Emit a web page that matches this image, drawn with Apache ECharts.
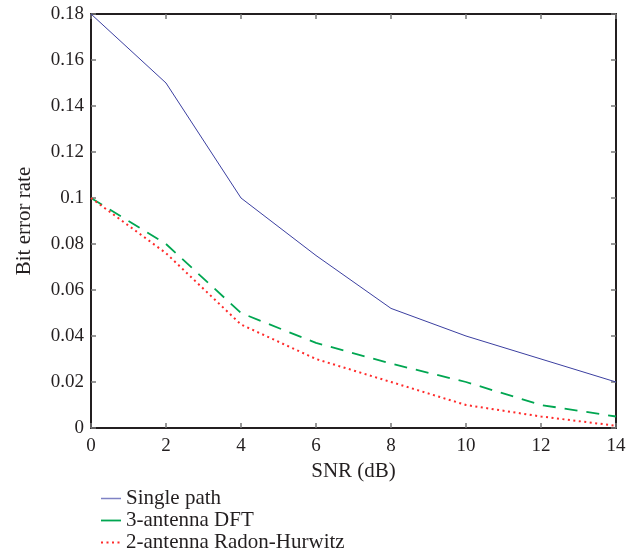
<!DOCTYPE html>
<html>
<head>
<meta charset="utf-8">
<script src="https://cdn.jsdelivr.net/npm/echarts@6/dist/echarts.min.js"></script>
<style>html,body{margin:0;padding:0;background:#fff;}#c{width:642px;height:559px;}</style>
</head>
<body>
<div id="c"></div>
<script>
const snr = [0, 2, 4, 6, 8, 10, 12, 14];
const singlePath = [0.18, 0.15, 0.10, 0.075, 0.052, 0.040, 0.030, 0.020];
const dft3 = [0.10, 0.080, 0.050, 0.037, 0.028, 0.020, 0.010, 0.005];
const radonHurwitz2 = [0.10, 0.076, 0.045, 0.030, 0.020, 0.010, 0.005, 0.001];
const seriesNames = ['Single path', '3-antenna DFT', '2-antenna Radon-Hurwitz'];

const FONT = 'Liberation Serif';
const pairs = arr => snr.map((x, i) => [x, arr[i]]);

const chart = echarts.init(document.getElementById('c'), null, {renderer: 'canvas'});
const axisLine = {show: true, onZero: false, lineStyle: {color: '#231f20', width: 2}};
const tick = {show: true, inside: true, length: 5, lineStyle: {color: '#777', width: 1.5}};
chart.setOption({
  animation: false,
  backgroundColor: '#fff',
  grid: {left: 91, right: 26, top: 14, bottom: 131, containLabel: false},
  xAxis: [{
    type: 'value', min: 0, max: 14, interval: 2, position: 'bottom',
    name: 'SNR (dB)', nameLocation: 'middle', nameGap: 32,
    nameTextStyle: {fontFamily: FONT, fontSize: 21, color: '#231f20'},
    axisLine: axisLine, axisTick: tick,
    axisLabel: {fontFamily: FONT, fontSize: 19, color: '#231f20', margin: 9},
    splitLine: {show: false}
  }, {
    type: 'value', min: 0, max: 14, interval: 2, position: 'top',
    axisLine: axisLine, axisTick: tick, axisLabel: {show: false}, splitLine: {show: false}
  }],
  yAxis: [{
    type: 'value', min: 0, max: 0.18, interval: 0.02, position: 'left',
    name: 'Bit error rate', nameLocation: 'middle', nameGap: 56,
    nameTextStyle: {fontFamily: FONT, fontSize: 21, color: '#231f20'},
    axisLine: axisLine, axisTick: tick,
    axisLabel: {fontFamily: FONT, fontSize: 19, color: '#231f20', margin: 7,
      formatter: v => String(Math.round(v * 100) / 100)},
    splitLine: {show: false}
  }, {
    type: 'value', min: 0, max: 0.18, interval: 0.02, position: 'right',
    axisLine: axisLine, axisTick: tick, axisLabel: {show: false}, splitLine: {show: false}
  }],
  legend: {
    orient: 'vertical', left: 100, top: 488, padding: 0,
    itemWidth: 20, itemHeight: 21, itemGap: 1,
    itemStyle: {opacity: 0},
    textStyle: {fontFamily: FONT, fontSize: 21, color: '#231f20', padding: [0, 0, 0, 0]},
    data: [
      {name: seriesNames[0], lineStyle: {color: '#7f82c4', width: 1.5}},
      {name: seriesNames[1], lineStyle: {type: 'solid', width: 1.8}},
      {name: seriesNames[2]}
    ]
  },
  series: [{
    name: seriesNames[0], type: 'line', data: pairs(singlePath), symbol: 'none',
    lineStyle: {color: '#3b3fa0', width: 1}, itemStyle: {color: '#3b3fa0'}
  }, {
    name: seriesNames[1], type: 'line', data: pairs(dft3), symbol: 'none',
    lineStyle: {color: '#00a651', width: 1.8, type: [13, 9]}, itemStyle: {color: '#00a651'}
  }, {
    name: seriesNames[2], type: 'line', data: pairs(radonHurwitz2), symbol: 'none',
    lineStyle: {color: '#ff2b2b', width: 2, type: [2, 3.5]}, itemStyle: {color: '#ff2b2b'}
  }]
});
</script>
</body>
</html>
